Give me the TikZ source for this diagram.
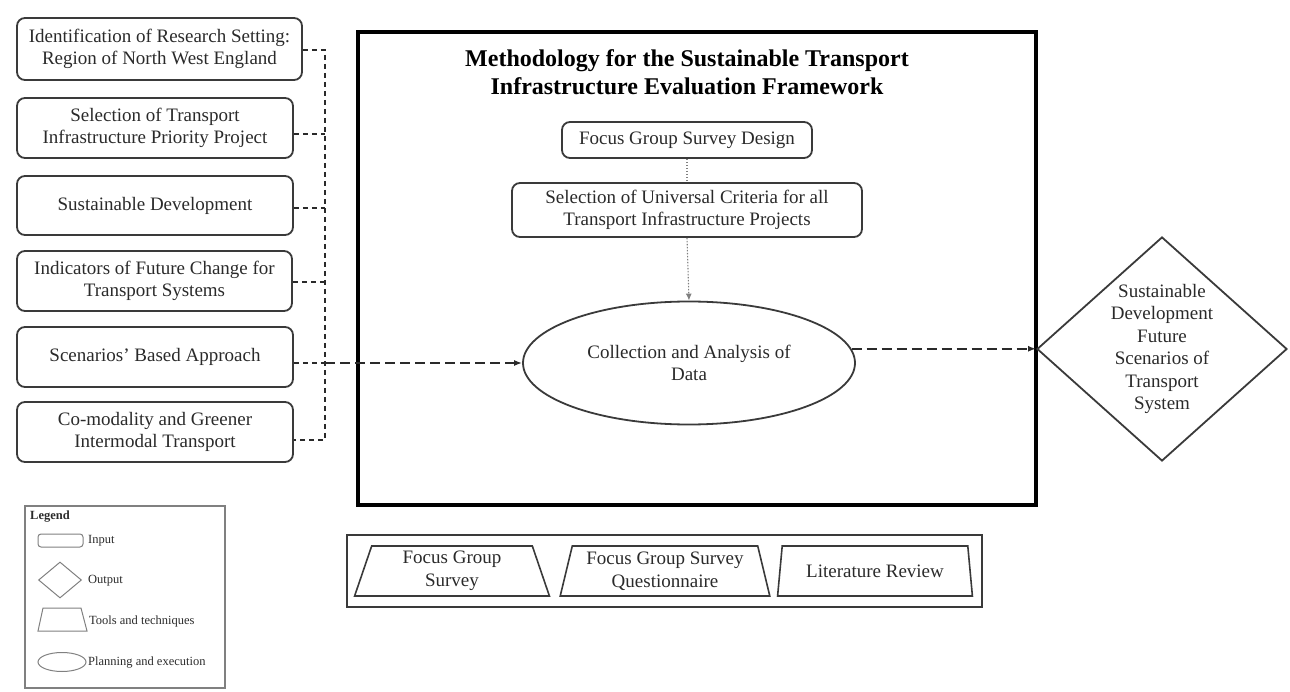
\documentclass[tikz,border=0pt]{standalone}
\usepackage{fontspec}
\setmainfont{Liberation Serif}
\usetikzlibrary{shapes.geometric,arrows.meta}
\definecolor{ink}{HTML}{2A2A2A}
\definecolor{frame}{HTML}{3A3A3A}
\tikzset{
  txt/.style={font=\fontsize{19}{22.5}\selectfont, text=ink, align=center},
  inbox/.style={txt, draw=frame, line width=1.8pt, rounded corners=8pt, inner sep=0pt},
  tool/.style={txt, draw=frame, line width=1.6pt, trapezium, trapezium stretches=true,
    trapezium left angle=75, trapezium right angle=75, inner sep=0pt},
  busline/.style={dashed, dash pattern=on 5pt off 4pt, line width=1.6pt, draw=ink},
  bigdash/.style={dash pattern=on 10pt off 5pt, line width=2pt, draw=ink,
    -{Latex[length=8pt,width=6pt]}},
  dotline/.style={draw=gray, line width=1.1pt, dash pattern=on 1.5pt off 1.5pt},
  legtxt/.style={font=\fontsize{12.5}{14}\selectfont, text=ink, anchor=west, inner sep=0pt},
  legshape/.style={draw=gray, line width=1pt, inner sep=0pt}
}
\begin{document}
\begin{tikzpicture}[x=1pt,y=-1pt]
\useasboundingbox (0,0) rectangle (1290,692);

% input boxes
\node[inbox, minimum width=285pt, minimum height=62pt] (b1) at (159.5,49)
  {Identification of Research Setting:\\Region of North West England};
\node[inbox, minimum width=276pt, minimum height=60pt] (b2) at (155,128)
  {Selection of Transport\\Infrastructure Priority Project};
\node[inbox, minimum width=276pt, minimum height=59pt] (b3) at (155,205.5)
  {Sustainable Development};
\node[inbox, minimum width=275pt, minimum height=60pt] (b4) at (154.5,281)
  {Indicators of Future Change for\\Transport Systems};
\node[inbox, minimum width=276pt, minimum height=60pt] (b5) at (155,357)
  {Scenarios’ Based Approach};
\node[inbox, minimum width=276pt, minimum height=60pt] (b6) at (155,432)
  {Co-modality and Greener\\Intermodal Transport};

% main frame
\node[draw=black, line width=3.5pt, minimum width=678pt, minimum height=473pt, inner sep=0pt] (main) at (697,268.5) {};
\node[font=\bfseries\fontsize{24}{28}\selectfont, text=black, align=center] (title) at (687,72)
  {Methodology for the Sustainable Transport\\Infrastructure Evaluation Framework};

\node[inbox, minimum width=250pt, minimum height=36pt] (fg) at (687,140) {Focus Group Survey Design};
\node[inbox, minimum width=350pt, minimum height=54pt] (sel) at (687,210)
  {Selection of Universal Criteria for all\\Transport Infrastructure Projects};
\node[txt, draw=frame, line width=1.8pt, ellipse, minimum width=332pt, minimum height=123pt, inner sep=0pt] (ell) at (689,363)
  {Collection and Analysis of\\Data};

% output diamond
\node[draw=frame, line width=1.8pt, diamond, minimum width=250pt, minimum height=224pt, inner sep=0pt,
  label={[txt, inner sep=0pt]center:{Sustainable\\Development\\Future\\Scenarios of\\Transport\\System}}] (dia) at (1162,349) {};

% tools
\node[draw=frame, line width=1.6pt, minimum width=635pt, minimum height=72pt, inner sep=0pt] (tools) at (664.5,571) {};
\node[tool, minimum width=195pt, minimum height=50pt] (t1) at (452,571) {Focus Group\\Survey};
\node[tool, minimum width=210pt, minimum height=50pt] (t2) at (665,571) {Focus Group Survey\\Questionnaire};
\node[tool, minimum width=195pt, minimum height=50pt] (t3) at (875,571) {Literature Review};

% bus connectors
\coordinate (bus) at (325,0);
\coordinate (c1) at ([yshift=-1pt]b1.east);
\coordinate (c2) at ([yshift=-6pt]b2.east);
\coordinate (c3) at ([yshift=-2.5pt]b3.east);
\coordinate (c4) at ([yshift=-1pt]b4.east);
\coordinate (c5) at ([yshift=-6pt]b5.east);
\coordinate (c6) at ([yshift=-8pt]b6.east);
\draw[busline] (c1) -- (c1 -| bus) -- (c6 -| bus) -- (c6);
\draw[busline] (c2) -- (c2 -| bus);
\draw[busline] (c3) -- (c3 -| bus);
\draw[busline] (c4) -- (c4 -| bus);
\draw[busline] (c5) -- (c5 -| bus);
\draw[bigdash] (c5 -| bus) -- (ell.west);

% dotted flow
\draw[dotline] (fg.south) -- (sel.north);
\draw[dotline, -{Latex[length=7pt,width=6pt]}] (sel.south) -- (ell.north);

% output arrow
\draw[bigdash] (ell.5) -- (ell.5 -| dia.west);

% legend
\node[draw=gray, line width=1.2pt, minimum width=200pt, minimum height=182pt, inner sep=0pt] (legend) at (125,597) {};
\node[legtxt, font=\bfseries\fontsize{12.5}{14}\selectfont] (legt) at (30,517) {Legend};
\node[legshape, rounded corners=3pt, minimum width=45pt, minimum height=13pt] (lin) at (60.5,540.5) {};
\node[legtxt] (linl) at (88,541) {Input};
\node[legshape, diamond, minimum width=43pt, minimum height=36pt] (lout) at (60,580) {};
\node[legtxt] (loutl) at (88,581) {Output};
\draw[draw=gray, line width=1pt] (38,631) -- (43,608) -- (81,608) -- (87,631) -- cycle;
\node[legtxt] (ltooll) at (89,621) {Tools and techniques};
\node[legshape, ellipse, minimum width=48pt, minimum height=19pt] (lplan) at (62,662) {};
\node[legtxt] (lplanl) at (88,663) {Planning and execution};
\end{tikzpicture}
\end{document}
